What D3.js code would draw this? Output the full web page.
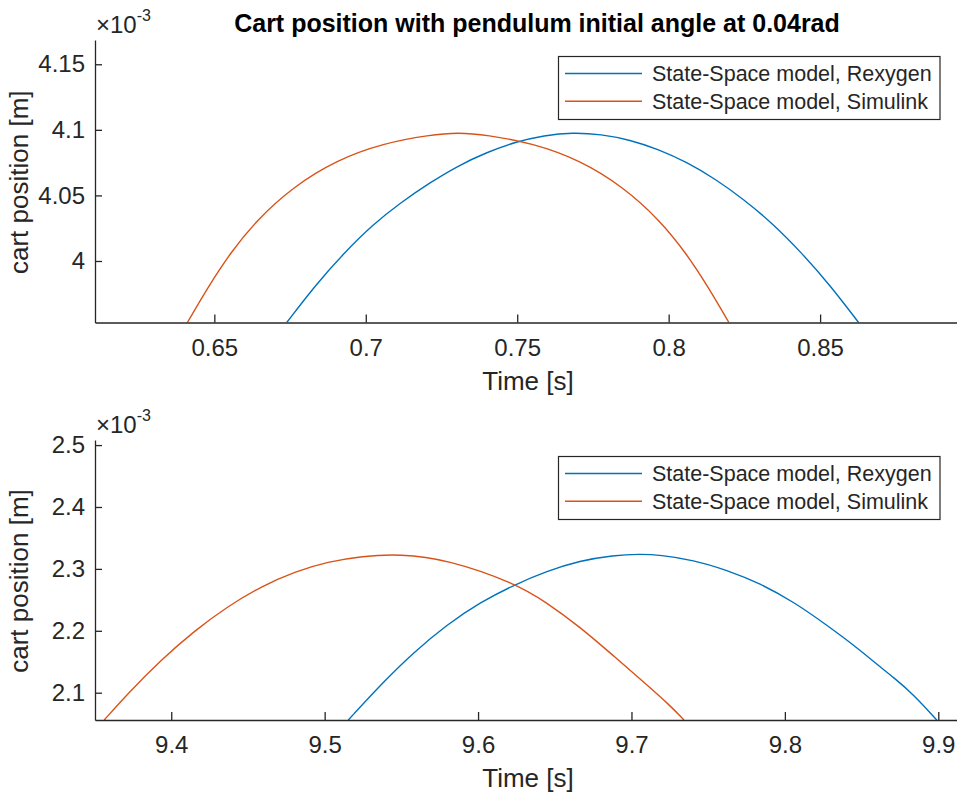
<!DOCTYPE html>
<html>
<head>
<meta charset="utf-8">
<script src="https://cdn.jsdelivr.net/npm/d3@7"></script>
<style>
  html, body { margin: 0; padding: 0; background: #fff; }
  svg { display: block; font-family: "Liberation Sans", Arial, Helvetica, sans-serif; }
</style>
</head>
<body>
<svg id="chart" width="957" height="796"></svg>
<script>
// ---------------- data (positions in units of 1e-3 m) ----------------
const titleText = "Cart position with pendulum initial angle at 0.04rad";
const seriesNames = ["State-Space model, Rexygen", "State-Space model, Simulink"];
const seriesColors = ["#0072BD", "#D95319"];

// top panel
const topRexT = [0.6739,0.6833,0.6928,0.7022,0.7117,0.7211,0.7305,0.7400,0.7494,0.7589,0.7683,0.7777,0.7872,0.7966,0.8061,0.8155,0.8249,0.8344,0.8438,0.8533,0.8627];
const topRexV = [3.9531,3.9814,4.0060,4.0275,4.0448,4.0596,4.0727,4.0829,4.0908,4.0958,4.0980,4.0966,4.0924,4.0852,4.0753,4.0624,4.0468,4.0285,4.0065,3.9815,3.9531];
const topSimT = [0.6411,0.6480,0.6552,0.6640,0.6761,0.6904,0.7058,0.7212,0.7305,0.7398,0.7552,0.7706,0.7849,0.7970,0.8058,0.8130,0.8199];
const topSimV = [3.9531,3.9804,4.0059,4.0313,4.0567,4.0770,4.0898,4.0961,4.0980,4.0961,4.0898,4.0770,4.0567,4.0313,4.0059,3.9804,3.9531];
const topXTicks = [0.65, 0.7, 0.75, 0.8, 0.85];
const topYTicks = [4, 4.05, 4.1, 4.15];
const topXDomain = [0.6106, 0.8952];
const topYDomain = [3.9531, 4.1685];

// bottom panel
const botRexT = [9.5154,9.5393,9.5578,9.5795,9.6012,9.6241,9.6447,9.6664,9.6881,9.7055,9.7186,9.7403,9.7621,9.7838,9.8055,9.8273,9.8490,9.8599,9.8707,9.8837,9.8990];
const botRexV = [2.0559,2.1200,2.1645,2.2095,2.2458,2.2748,2.2963,2.3132,2.3220,2.3241,2.3225,2.3144,2.2982,2.2767,2.2470,2.2094,2.1690,2.1460,2.1250,2.0975,2.0559];
const botSimT = [9.3563,9.3715,9.3937,9.4155,9.4372,9.4589,9.4806,9.5023,9.5241,9.5491,9.5795,9.6241,9.6447,9.6664,9.6881,9.7099,9.7251,9.7342];
const botSimV = [2.0559,2.0983,2.1538,2.2008,2.2401,2.2720,2.2958,2.3116,2.3206,2.3241,2.3155,2.2770,2.2457,2.2062,2.1600,2.1130,2.0795,2.0559];
const botXTicks = [9.4, 9.5, 9.6, 9.7, 9.8, 9.9];
const botYTicks = [2.1, 2.2, 2.3, 2.4, 2.5];
const botXDomain = [9.3503, 9.9122];
const botYDomain = [2.0559, 2.5082];

const xLabel = "Time [s]";
const yLabel = "cart position [m]";

// ---------------- drawing ----------------
const svg = d3.select("#chart");
const TXT = "#262626";

function zip(ts, vs) { return ts.map((t, i) => ({ t: t, v: vs[i] })); }

function panel(cfg) {
  const x = d3.scaleLinear().domain(cfg.xDomain).range([cfg.left, cfg.right]);
  const y = d3.scaleLinear().domain(cfg.yDomain).range([cfg.bottom, cfg.top]);
  const g = svg.append("g");

  const clipId = "clip" + cfg.id;
  svg.append("clipPath").attr("id", clipId).append("rect")
    .attr("x", cfg.left).attr("y", cfg.top)
    .attr("width", cfg.right - cfg.left).attr("height", cfg.bottom - cfg.top);

  const line = d3.line().x(d => x(d.t)).y(d => y(d.v)).curve(d3.curveBasis);
  const lines = g.append("g").attr("clip-path", `url(#${clipId})`);
  cfg.series.forEach((s, i) => {
    lines.append("path").datum(s).attr("fill", "none")
      .attr("stroke", seriesColors[i]).attr("stroke-width", 1.4)
      .attr("d", line);
  });

  const fmt = d => String(+d.toFixed(3));
  const xa = g.append("g").attr("transform", `translate(0,${cfg.bottom})`)
    .call(d3.axisBottom(x).tickValues(cfg.xTicks).tickFormat(fmt).tickSizeInner(-8).tickSizeOuter(0).tickPadding(16));
  const ya = g.append("g").attr("transform", `translate(${cfg.left},0)`)
    .call(d3.axisLeft(y).tickValues(cfg.yTicks).tickFormat(fmt).tickSizeInner(-7).tickSizeOuter(0).tickPadding(10));
  [xa, ya].forEach(a => {
    a.select(".domain").attr("stroke", TXT).attr("stroke-width", 1.3);
    a.selectAll(".tick line").attr("stroke", TXT).attr("stroke-width", 1.3);
    a.selectAll(".tick text").attr("fill", TXT).style("font-size", "24px")
      .style("font-family", '"Liberation Sans", Arial, sans-serif');
  });

  // exponent label
  const ex = g.append("text").attr("x", cfg.left + 1).attr("y", cfg.top - 7)
    .attr("fill", TXT).style("font-size", "24px").text("\u00d710");
  ex.append("tspan").attr("dy", -12).style("font-size", "16px").text("-3");

  // axis labels
  g.append("text").attr("x", (cfg.left + cfg.right) / 2 + 2).attr("y", cfg.bottom + 67)
    .attr("text-anchor", "middle").attr("fill", TXT).style("font-size", "26px").text(xLabel);
  g.append("text").attr("transform", `translate(28,${(cfg.top + cfg.bottom) / 2 + 1}) rotate(-90)`)
    .attr("text-anchor", "middle").attr("fill", TXT).style("font-size", "26px").text(yLabel);

  // legend
  const lg = g.append("g");
  lg.append("rect").attr("x", 558.5).attr("y", cfg.top + 16.5).attr("width", 381.5).attr("height", 63)
    .attr("fill", "#fff").attr("stroke", TXT).attr("stroke-width", 1.2);
  seriesNames.forEach((n, i) => {
    const yy = cfg.top + 33.5 + i * 27.8;
    lg.append("line").attr("x1", 565).attr("x2", 642).attr("y1", yy).attr("y2", yy)
      .attr("stroke", seriesColors[i]).attr("stroke-width", 1.4);
    lg.append("text").attr("x", 652).attr("y", yy).attr("dy", "0.35em")
      .attr("fill", TXT).style("font-size", "21.5px").text(n);
  });
}

panel({ id: "top", left: 95, right: 957, top: 40, bottom: 322.5,
  xDomain: topXDomain, yDomain: topYDomain, xTicks: topXTicks, yTicks: topYTicks,
  series: [zip(topRexT, topRexV), zip(topSimT, topSimV)] });

panel({ id: "bot", left: 95, right: 957, top: 440, bottom: 720,
  xDomain: botXDomain, yDomain: botYDomain, xTicks: botXTicks, yTicks: botYTicks,
  series: [zip(botRexT, botRexV), zip(botSimT, botSimV)] });

svg.append("text").attr("x", 537).attr("y", 32).attr("text-anchor", "middle")
  .attr("fill", "#000").style("font-size", "25px").style("font-weight", "bold").text(titleText);
</script>
</body>
</html>
